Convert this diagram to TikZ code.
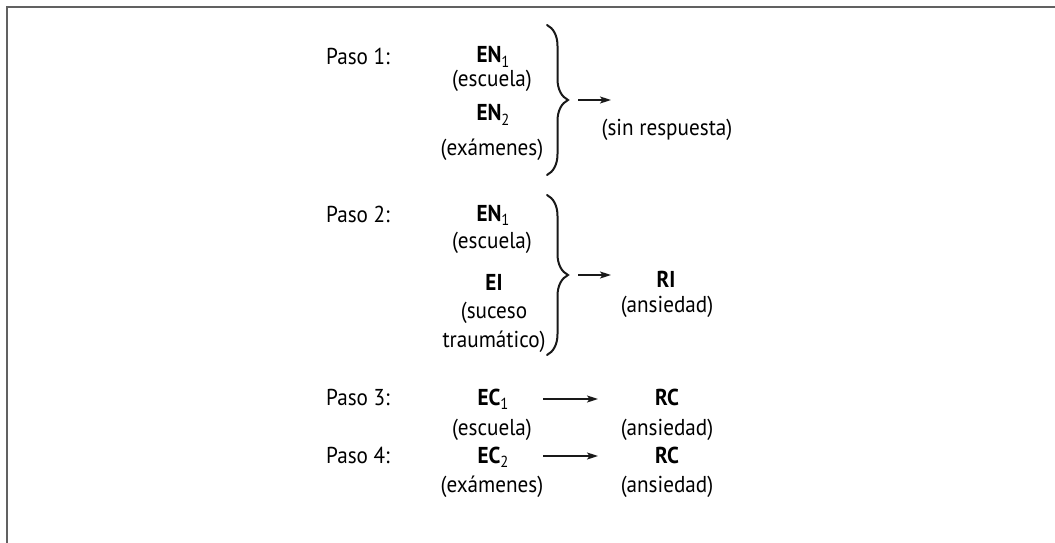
\documentclass[tikz,border=0pt]{standalone}
\usepackage{fontspec}
\setmainfont[FakeStretch=0.92]{PT Sans}
\usetikzlibrary{decorations.pathreplacing,arrows.meta}
\newcommand{\sbx}[1]{\raisebox{-0.42ex}{\fontsize{16}{16}\selectfont\mdseries #1}}
\begin{document}
\begin{tikzpicture}[x=1pt,y=-1pt,
  txt/.style={font=\fontsize{23}{26}\selectfont, inner sep=0pt, anchor=base},
  bld/.style={txt, font=\fontsize{23}{26}\selectfont\bfseries},
  paso/.style={txt, anchor=base west},
  frame/.style={draw=black!62, line width=2.2pt},
  brace/.style={draw=black!90, line width=2pt, line cap=round, decorate,
    decoration={brace, amplitude=21pt}},
  arr/.style={draw=black!90, line width=1.4pt, -{Stealth[length=11pt,width=7pt,inset=2.5pt]}}]
\useasboundingbox (0,0) rectangle (1055,543);
\draw[frame] (7,543) -- (7,7) -- (1055,7);

% Paso 1
\node[paso] (p1) at (326,64) {Paso 1:};
\node[bld] (en1a) at (493,63) {EN\sbx{1}};
\node[txt] (esc1) at (492,87) {(escuela)};
\node[bld] (en2) at (493,121) {EN\sbx{2}};
\node[txt] (exa1) at (492,155) {(exámenes)};
\coordinate (b1t) at (547,25);
\coordinate (b1b) at (547,175);
\draw[brace] (b1t) -- (b1b);
\coordinate (a1s) at (578,100);
\coordinate (a1e) at (611,100);
\draw[arr] (a1s) -- (a1e);
\node[txt] (sinr) at (667,135) {(sin respuesta)};

% Paso 2
\node[paso] (p2) at (326,222) {Paso 2:};
\node[bld] (en1b) at (493,221) {EN\sbx{1}};
\node[txt] (esc2) at (492,248) {(escuela)};
\node[bld] (ei) at (494,290) {EI};
\node[txt] (suc) at (494,318) {(suceso};
\node[txt] (trau) at (494,347) {traumático)};
\coordinate (b2t) at (547,195);
\coordinate (b2b) at (547,355);
\draw[brace] (b2t) -- (b2b);
\coordinate (a2s) at (578,275);
\coordinate (a2e) at (611,275);
\draw[arr] (a2s) -- (a2e);
\node[bld] (ri) at (666,287) {RI};
\node[txt] (ans1) at (667,312) {(ansiedad)};

% Paso 3
\node[paso] (p3) at (326,405) {Paso 3:};
\node[bld] (ec1) at (493,405) {EC\sbx{1}};
\node[txt] (esc3) at (492,435) {(escuela)};
\node[bld] (rc1) at (667,405) {RC};
\node[txt] (ans2) at (667,435) {(ansiedad)};
\coordinate (a3s) at (543,399);
\coordinate (a3e) at (598,399);
\draw[arr] (a3s) -- (a3e);

% Paso 4
\node[paso] (p4) at (326,463) {Paso 4:};
\node[bld] (ec2) at (493,463) {EC\sbx{2}};
\node[txt] (exa2) at (492,492) {(exámenes)};
\node[bld] (rc2) at (667,463) {RC};
\node[txt] (ans3) at (667,492) {(ansiedad)};
\coordinate (a4s) at (543,456);
\coordinate (a4e) at (598,456);
\draw[arr] (a4s) -- (a4e);
\end{tikzpicture}
\end{document}
